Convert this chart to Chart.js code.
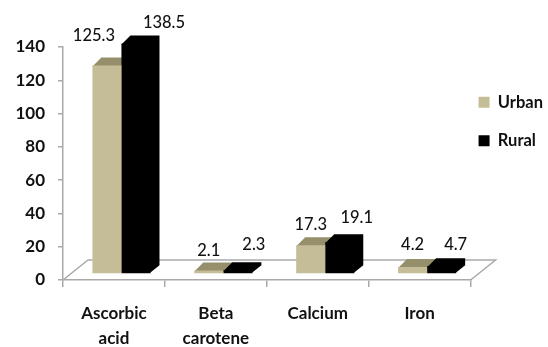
<!DOCTYPE html>
<html>
<head>
<meta charset="utf-8">
<style>
  html, body { margin: 0; padding: 0; background: #fff; }
  canvas { display: block; }
</style>
<script src="https://cdn.jsdelivr.net/npm/chart.js@4/dist/chart.umd.min.js"></script>
</head>
<body>
<canvas id="chart" width="548" height="347"></canvas>
<script>
const categories = [['Ascorbic', 'acid'], ['Beta', 'carotene'], 'Calcium', 'Iron'];
const urbanValues = [125.3, 2.1, 17.3, 4.2];
const ruralValues = [138.5, 2.3, 19.1, 4.7];

const FONT = 'Lato, sans-serif';
const AXIS_GREY = '#a9a9a9';

// Los colores de cada serie: frente y cara superior.
const faces = [
  { front: '#c4bd97', top: '#958f6c', side: '#958f6c' },
  { front: '#000000', top: '#000000', side: '#000000' },
];

// Desplazamiento de las barras sobre el suelo y profundidad del falso 3D.
const SHIFT_X = 7.5;
const SHIFT_Y = 6;
const BAR_DX = 9;
const BAR_DY = 8;
const FLOOR_DX = 25;
const FLOOR_DY = 20;

// Ajuste a mano de cada etiqueta respecto al centro/tope de su barra.
const labelNudge = [
  [[-13, -30], [0, -20], [0, -21], [0, -22]],
  [[28, -21], [16, -26], [17, -25], [14, -22]],
];

const fake3d = {
  id: 'fake3d',
  afterLayout(chart) {
    chart.legend.top += 25;
    chart.legend.left -= 14;
    chart.legend.right -= 14;
  },
  afterDatasetsUpdate(chart) {
    chart.data.datasets.forEach((_, i) => {
      chart.getDatasetMeta(i).data.forEach((bar) => {
        bar.x += SHIFT_X;
        bar.y -= SHIFT_Y;
        bar.base -= SHIFT_Y;
      });
    });
  },
  beforeDatasetsDraw(chart) {
    const { ctx, chartArea } = chart;
    const y0 = chart.scales.y.getPixelForValue(0);
    ctx.save();
    ctx.strokeStyle = AXIS_GREY;
    ctx.lineWidth = 1.5;
    ctx.beginPath();
    ctx.moveTo(chartArea.left, y0);
    ctx.lineTo(chartArea.left + FLOOR_DX, y0 - FLOOR_DY);
    ctx.lineTo(chartArea.right + FLOOR_DX, y0 - FLOOR_DY);
    ctx.lineTo(chartArea.right, y0);
    ctx.stroke();

    // Caras de profundidad: primero Urban, luego Rural; los frentes van encima.
    // Se solapan 1px bajo el frente para que no quede costura blanca.
    chart.data.datasets.forEach((_, i) => {
      const face = faces[i];
      chart.getDatasetMeta(i).data.forEach((bar) => {
        const left = bar.x - bar.width / 2;
        const right = bar.x + bar.width / 2;
        ctx.fillStyle = face.top;
        ctx.beginPath();
        ctx.moveTo(left, bar.y + 1);
        ctx.lineTo(left + BAR_DX, bar.y - BAR_DY);
        ctx.lineTo(right + BAR_DX, bar.y - BAR_DY);
        ctx.lineTo(right + BAR_DX, bar.base - BAR_DY);
        ctx.lineTo(right - 1, bar.base);
        ctx.lineTo(right - 1, bar.y + 1);
        ctx.closePath();
        ctx.fill();
      });
    });
    ctx.restore();
  },
  afterDatasetsDraw(chart) {
    const { ctx } = chart;
    ctx.save();
    ctx.fillStyle = '#111';
    ctx.font = '500 16.5px ' + FONT;
    ctx.textAlign = 'center';
    ctx.textBaseline = 'middle';
    chart.data.datasets.forEach((ds, i) => {
      chart.getDatasetMeta(i).data.forEach((bar, j) => {
        const [dx, dy] = labelNudge[i][j];
        ctx.fillText(ds.data[j].toFixed(1), bar.x + dx, bar.y + dy);
      });
    });
    ctx.restore();
  },
};

new Chart(document.getElementById('chart'), {
  type: 'bar',
  plugins: [fake3d],
  data: {
    labels: categories,
    datasets: [
      { label: 'Urban', data: urbanValues, backgroundColor: faces[0].front, clip: false },
      { label: 'Rural', data: ruralValues, backgroundColor: faces[1].front, clip: false },
    ],
  },
  options: {
    responsive: false,
    animation: false,
    layout: { padding: { top: 47, right: -19, bottom: 0, left: 0 } },
    datasets: { bar: { categoryPercentage: 0.57, barPercentage: 1 } },
    plugins: {
      tooltip: { enabled: false },
      legend: {
        position: 'right',
        align: 'start',
        labels: {
          boxWidth: 11,
          boxHeight: 11,
          padding: 22,
          color: '#111',
          font: { family: FONT, size: 16.5, weight: '700' },
        },
      },
    },
    scales: {
      x: {
        afterFit: (s) => { s.height = 67; },
        border: { color: AXIS_GREY, width: 1.5 },
        grid: { drawOnChartArea: false, color: AXIS_GREY, lineWidth: 1.5, tickLength: 7 },
        ticks: { color: '#111', font: { family: FONT, size: 17, weight: '700', lineHeight: 1.47 }, padding: 14, maxRotation: 0 },
      },
      y: {
        min: 0,
        max: 140,
        afterFit: (s) => { s.width = 63; },
        border: { color: AXIS_GREY, width: 1.5 },
        grid: { drawOnChartArea: false, color: AXIS_GREY, lineWidth: 1.5, tickLength: 5 },
        ticks: { stepSize: 20, color: '#111', font: { family: FONT, size: 17, weight: '700' }, padding: 13 },
      },
    },
  },
});
</script>
</body>
</html>
